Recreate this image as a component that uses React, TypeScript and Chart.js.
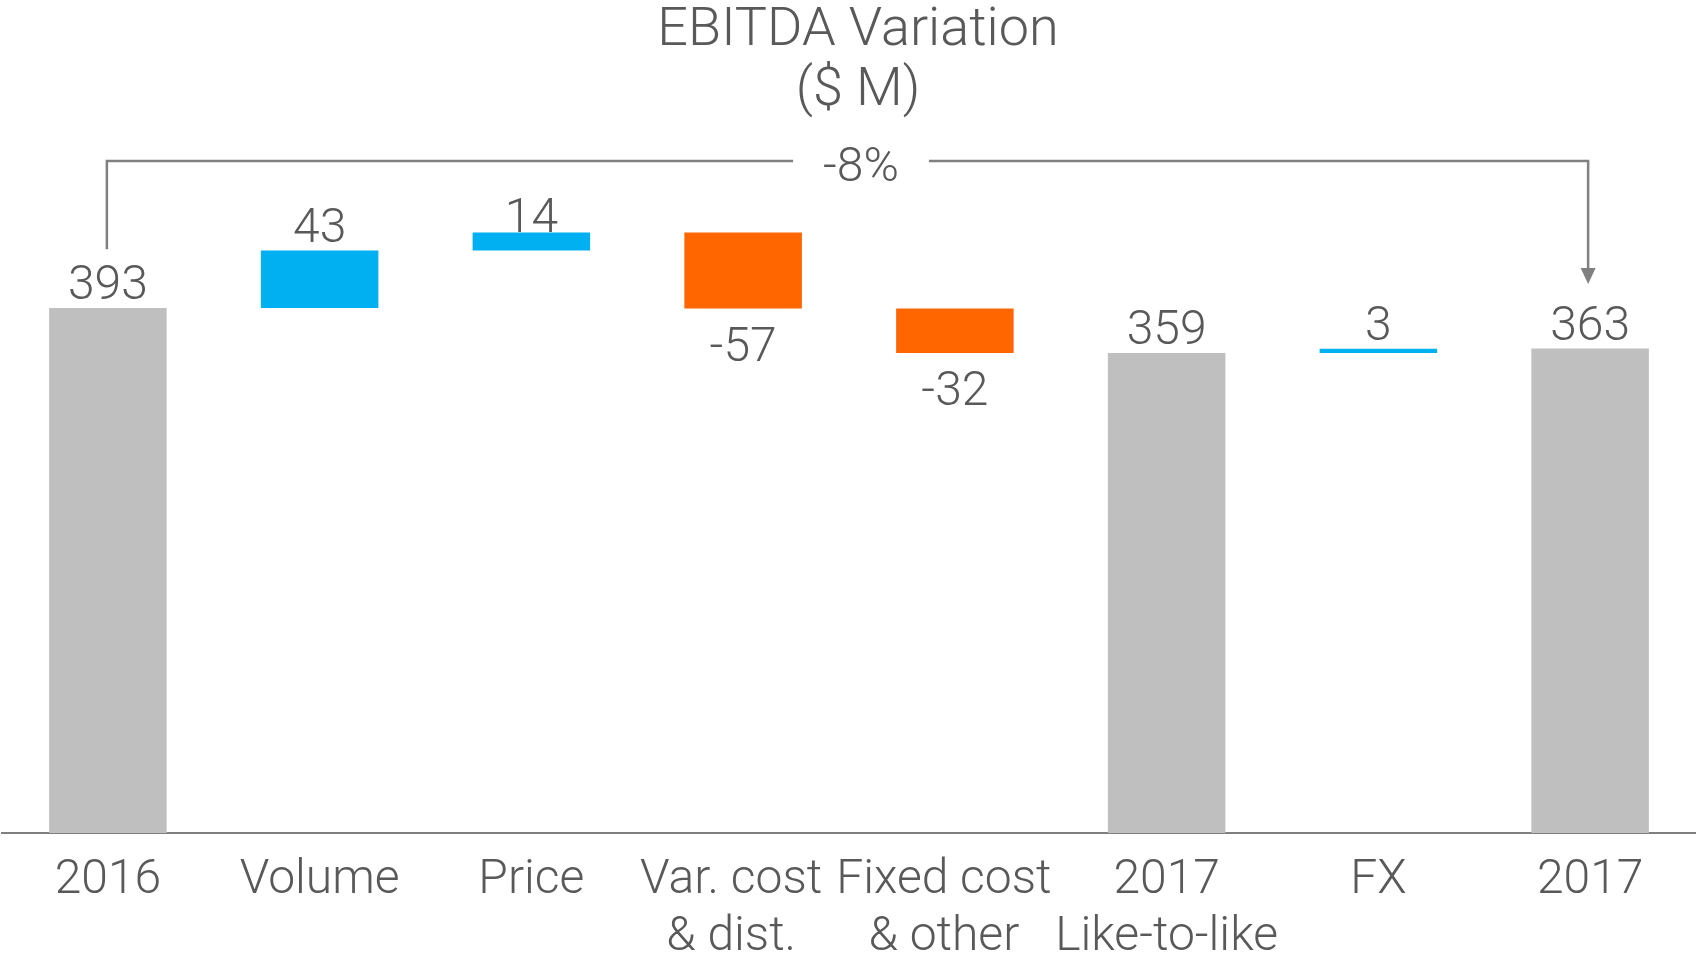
import React, { useEffect, useRef } from 'react';
import { Chart, registerables } from 'chart.js';

Chart.register(...registerables);

// ---- data ----
const categories: string[][] = [
  ['2016'],
  ['Volume'],
  ['Price'],
  ['Var. cost', '& dist.'],
  ['Fixed cost', '& other'],
  ['2017', 'Like-to-like'],
  ['FX'],
  ['2017'],
];
const barStart = [0, 393, 436, 392.5, 359.3, 0, 359.3, 0];
const barEnd = [393, 436, 449.5, 449.5, 392.5, 359.3, 362.4, 362.6];
const valueLabels = ['393', '43', '14', '-57', '-32', '359', '3', '363'];
const barKinds = ['total', 'up', 'up', 'down', 'down', 'total', 'up', 'total'];
const changeLabel = '-8%';
const titleLines = ['EBITDA Variation', '($ M)'];
// bracket levels (in data units)
const bracketLevel = 503;
const bracketLeftEnd = 437;
const bracketArrowTip = 411;

// ---- styles ----
const COLORS: Record<string, string> = { total: '#bfbfbf', up: '#00b0f0', down: '#ff6600' };
const TEXT = '#595959';
const LINE = '#808080';
const FONT = 'Roboto';
const labelGaps = [8.5, 8.5, 0, 52, 52, 8.5, 8.5, 8.5];
const tickShift = [0, 0, 0, -12, -11, 0, 0, 0];

const overlayPlugin = {
  id: 'overlay',
  afterDatasetsDraw(chart: any) {
    const { ctx } = chart;
    const meta = chart.getDatasetMeta(0);
    const yScale = chart.scales.y;
    const xScale = chart.scales.x;
    ctx.save();
    ctx.fillStyle = TEXT;
    ctx.font = `300 48px ${FONT}`;
    ctx.textAlign = 'center';
    ctx.textBaseline = 'alphabetic';
    meta.data.forEach((el: any, i: number) => {
      const top = Math.min(el.y, el.base);
      const bottom = Math.max(el.y, el.base);
      if (barKinds[i] === 'down') {
        ctx.fillText(valueLabels[i], el.x, bottom + labelGaps[i]);
      } else {
        ctx.fillText(valueLabels[i], el.x, top - labelGaps[i]);
      }
    });

    // category labels
    const axisY = yScale.getPixelForValue(0);
    categories.forEach((lines, i) => {
      const x = xScale.getPixelForValue(i) + tickShift[i];
      lines.forEach((t, j) => {
        ctx.fillText(t, x, axisY + 60 + j * 57);
      });
    });

    // bracket
    const first = meta.data[0];
    const last = meta.data[meta.data.length - 1];
    const yLevel = yScale.getPixelForValue(bracketLevel);
    const yLeft = yScale.getPixelForValue(bracketLeftEnd);
    const yTip = yScale.getPixelForValue(bracketArrowTip);
    const xL = first.x - 1;
    const xR = last.x - 2;
    const midX = (chart.chartArea.left + chart.chartArea.right) / 2 + 12;
    const tw = ctx.measureText(changeLabel).width;
    const gap = tw / 2 + 30;
    ctx.strokeStyle = LINE;
    ctx.lineWidth = 2.5;
    ctx.beginPath();
    ctx.moveTo(xL, yLeft);
    ctx.lineTo(xL, yLevel);
    ctx.lineTo(midX - gap, yLevel);
    ctx.moveTo(midX + gap, yLevel);
    ctx.lineTo(xR, yLevel);
    ctx.lineTo(xR, yTip - 14);
    ctx.stroke();
    ctx.fillStyle = LINE;
    ctx.beginPath();
    ctx.moveTo(xR - 7.5, yTip - 16);
    ctx.lineTo(xR + 7.5, yTip - 16);
    ctx.lineTo(xR, yTip);
    ctx.closePath();
    ctx.fill();
    ctx.fillStyle = TEXT;
    ctx.fillText(changeLabel, midX, yLevel + 20);

    // title
    ctx.font = `300 54px ${FONT}`;
    ctx.fillText(titleLines[0], midX - 3, 45);
    ctx.fillText(titleLines[1], midX - 3, 105);
    ctx.restore();
  },
};

export default function App() {
  const ref = useRef<HTMLCanvasElement | null>(null);
  useEffect(() => {
    if (!ref.current) return;
    const chart = new Chart(ref.current, {
      type: 'bar',
      data: {
        labels: categories,
        datasets: [
          {
            data: barStart.map((s, i) => [s, barEnd[i]]) as any,
            backgroundColor: barKinds.map((k) => COLORS[k]),
            borderWidth: 0,
            barPercentage: 0.555,
            categoryPercentage: 1,
          },
        ],
      },
      options: {
        responsive: false,
        animation: false,
        devicePixelRatio: 1,
        layout: { padding: { left: 2, right: 0, top: 0, bottom: 0 } },
        plugins: { legend: { display: false }, tooltip: { enabled: false }, title: { display: false } },
        scales: {
          x: {
            grid: { display: false, drawTicks: false },
            border: { display: true, color: '#7f7f7f', width: 2 },
            ticks: { display: false },
            afterFit: (scale: any) => {
              scale.height = 120;
            },
          },
          y: { display: false, min: 0, max: 623.5 },
        },
      },
      plugins: [overlayPlugin],
    });
    return () => chart.destroy();
  }, []);
  return (
    <div style={{ position: 'fixed', left: 0, top: 0, width: 1696, height: 953, background: '#fff' }}>
      <canvas ref={ref} width={1696} height={953} style={{ display: 'block' }} />
    </div>
  );
}
